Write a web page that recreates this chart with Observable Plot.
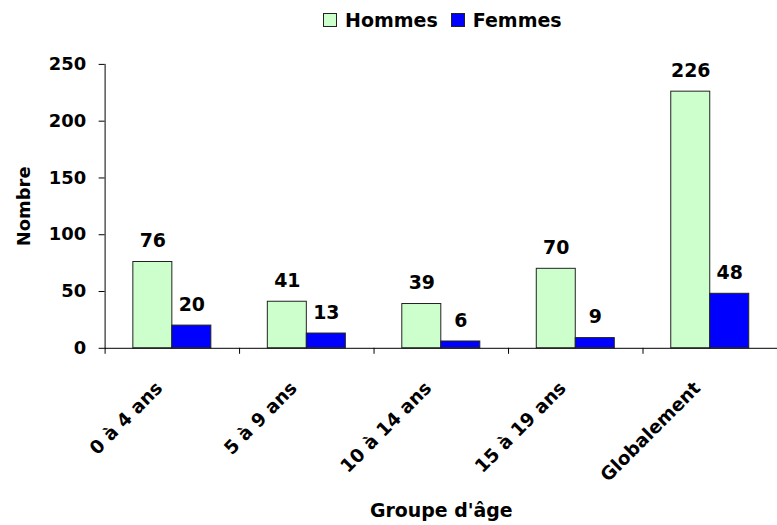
<!DOCTYPE html>
<html><head><meta charset="utf-8">
<script src="https://cdn.jsdelivr.net/npm/d3@7"></script>
<script src="https://cdn.jsdelivr.net/npm/@observablehq/plot@0.6"></script>
<style>
html,body{margin:0;padding:0;background:#fff;overflow:hidden;width:777px;height:525px}
#wrap{position:relative;width:777px;height:525px;overflow:hidden}
#legend{position:absolute;left:323px;top:9px;display:flex;align-items:center;font:bold 19px "DejaVu Sans";color:#000;white-space:nowrap}
.sw{width:12px;height:12px;border:1px solid #222;margin-right:8px;box-sizing:content-box}
.item{display:flex;align-items:center;margin-right:13px}
#chart{position:absolute;left:0;top:40px}
</style></head><body>
<div id="wrap"><div id="legend"></div><div id="chart"></div></div>
<script>
const categories = ["0 à 4 ans","5 à 9 ans","10 à 14 ans","15 à 19 ans","Globalement"];
const hommes = [76, 41, 39, 70, 226];
const femmes = [20, 13, 6, 9, 48];
const series = ["Hommes", "Femmes"];
const colors = ["#CCFFCC", "#0000FF"];
const yTicks = [0, 50, 100, 150, 200, 250];

const data = categories.flatMap((c, i) => [
  {group: c, sexe: series[0], n: hommes[i]},
  {group: c, sexe: series[1], n: femmes[i]}
]);

// legend
const leg = document.getElementById("legend");
series.forEach((s, i) => {
  const it = document.createElement("div"); it.className = "item";
  const sw = document.createElement("div"); sw.className = "sw"; sw.style.background = colors[i];
  const t = document.createElement("span"); t.textContent = s;
  it.appendChild(sw); it.appendChild(t); leg.appendChild(it);
});

const W = 780, H = 485, ML = 105, MR = 0, MT = 24, MB = 176;
const band = (W - ML - MR) / categories.length;
const barW = band * 0.29;
const pad = (band - 2 * barW) / 2;

const plot = Plot.plot({
  width: W, height: H,
  marginLeft: ML, marginRight: MR, marginTop: MT, marginBottom: MB,
  style: {fontFamily: "DejaVu Sans", fontSize: "18px", fontWeight: "bold", color: "#000", background: "#fff", overflow: "visible"},
  x: {domain: categories, padding: 0},
  y: {domain: [0, 250]},
  marks: [
    Plot.barY(data.filter(d => d.sexe === series[0]), {x: "group", y: "n", fill: colors[0], stroke: "#222", strokeWidth: 1, insetLeft: pad, insetRight: pad + barW}),
    Plot.barY(data.filter(d => d.sexe === series[1]), {x: "group", y: "n", fill: colors[1], stroke: "#222", strokeWidth: 1, insetLeft: pad + barW, insetRight: pad}),
    Plot.ruleY([0], {stroke: "#000"}),
    Plot.frame({anchor: "left", stroke: "#000"}),
    Plot.axisY({ticks: yTicks, tickSize: 6, tickPadding: 13, label: "Nombre", labelAnchor: "center", labelOffset: 88, labelArrow: "none"}),
    Plot.axisX({tickSize: 6, tickFormat: () => "", dx: -band / 2, label: null}),
    Plot.axisX({tickSize: 0, tickRotate: -45, tickPadding: 37, dx: -13, fontSize: 18.5, label: null}),
    Plot.axisX({tickSize: 0, tickFormat: () => "", label: "Groupe d'âge", labelAnchor: "center", labelOffset: 169, labelArrow: "none", fontSize: 19}),
    Plot.text(data.filter(d => d.sexe === series[0]), {x: "group", y: "n", text: d => String(d.n), dx: -(band / 2 - pad - barW / 2), dy: -15, lineAnchor: "bottom", fontSize: 19}),
    Plot.text(data.filter(d => d.sexe === series[1]), {x: "group", y: "n", text: d => String(d.n), dx: (band / 2 - pad - barW / 2), dy: -15, lineAnchor: "bottom", fontSize: 19})
  ]
});
document.getElementById("chart").appendChild(plot);
</script>
</body></html>
